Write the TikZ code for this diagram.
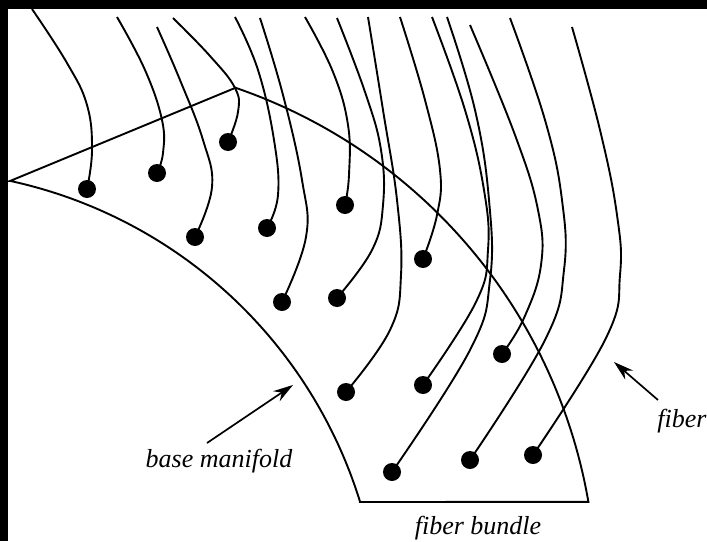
\documentclass[tikz,border=0pt]{standalone}
\usepackage{fontspec}
\setmainfont{Liberation Serif}
\usetikzlibrary{arrows.meta}
\begin{document}
\begin{tikzpicture}[x=1pt,y=-1pt,
  edge/.style={line width=1.9pt,line join=miter},
  fiber/.style={line width=1.9pt},
  dot/.style={circle,fill=black,inner sep=0pt,minimum size=18pt},
  lab/.style={font=\itshape\fontsize{26}{29}\selectfont,inner sep=0pt,anchor=base},
  arr/.style={line width=1.7pt,-{Stealth[length=20pt,width=12pt]}}]
\useasboundingbox (0,0) rectangle (707,541);
\fill[white] (0,0) rectangle (707,541);
\fill[black] (0,0) rectangle (707,9);
\fill[black] (0,0) rectangle (8,541);
% wedge (base manifold)
\draw[edge] (10,181) -- (235,88)
  -- plot[domain=71.1:9.8,samples=80] ({62.4+533.8*cos(\x)},{592.7-533.8*sin(\x)})
  -- (360,502)
  -- plot[domain=17.2:77.7,samples=80] ({-89.6+470.7*cos(\x)},{640.9-470.7*sin(\x)})
  -- cycle;
% dots
\node[dot] (d1) at (87,189) {};
\node[dot] (d2) at (157,173) {};
\node[dot] (d3) at (228,142) {};
\node[dot] (d4) at (195,237) {};
\node[dot] (d5) at (267,228) {};
\node[dot] (d6) at (345,205) {};
\node[dot] (d7) at (282,302) {};
\node[dot] (d8) at (337,298) {};
\node[dot] (d9) at (423,259) {};
\node[dot] (d10) at (502,354) {};
\node[dot] (d11) at (346,392) {};
\node[dot] (d12) at (423,385) {};
\node[dot] (d13) at (392,472) {};
\node[dot] (d14) at (470,460) {};
\node[dot] (d15) at (533,455) {};
% fibers
\draw[fiber] plot[smooth,tension=0.7] coordinates {(32,9) (67,63) (87,105) (92,150) (d1.center)};
\draw[fiber] plot[smooth,tension=0.7] coordinates {(117,17) (145,70) (162,120) (163,153) (d2.center)};
\draw[fiber] plot[smooth,tension=0.7] coordinates {(157,27) (180,80) (203,140) (212,187) (d4.center)};
\draw[fiber] plot[smooth,tension=0.7] coordinates {(173,18) (210,56) (235,88) (238,112) (d3.center)};
\draw[fiber] plot[smooth,tension=0.7] coordinates {(235,17) (258,70) (274,140) (278,195) (d5.center)};
\draw[fiber] plot[smooth,tension=0.7] coordinates {(260,18) (283,95) (302,180) (306,237) (d7.center)};
\draw[fiber] plot[smooth,tension=0.7] coordinates {(305,17) (333,72) (348,125) (349,175) (d6.center)};
\draw[fiber] plot[smooth,tension=0.7] coordinates {(337,18) (365,92) (381,150) (383,205) (372,250) (d8.center)};
\draw[fiber] plot[smooth,tension=0.7] coordinates {(368,17) (383,110) (397,200) (401,275) (390,330) (d11.center)};
\draw[fiber] plot[smooth,tension=0.7] coordinates {(400,17) (425,100) (440,170) (437,215) (d9.center)};
\draw[fiber] plot[smooth,tension=0.7] coordinates {(432,17) (465,110) (484,190) (488,250) (476,302) (d12.center)};
\draw[fiber] plot[smooth,tension=0.7] coordinates {(447,17) (475,110) (489,200) (490,280) (470,350) (d13.center)};
\draw[fiber] plot[smooth,tension=0.7] coordinates {(470,25) (515,135) (538,210) (541,265) (524,318) (d10.center)};
\draw[fiber] plot[smooth,tension=0.7] coordinates {(510,18) (545,120) (562,200) (564,270) (545,340) (d14.center)};
\draw[fiber] plot[smooth,tension=0.7] coordinates {(572,27) (600,130) (617,215) (620,275) (606,338) (d15.center)};
% labels
\node[lab] (bm) at (219,467) {base manifold};
\node[lab] (fb) at (478,534) {fiber bundle};
\node[lab] (fi) at (682,427) {fiber};
\coordinate (bmt) at (207,443);
\coordinate (bmh) at (293,385);
\coordinate (fit) at (658,400);
\coordinate (fih) at (614,362);
\draw[arr] (bmt) -- (bmh);
\draw[arr] (fit) -- (fih);
\end{tikzpicture}
\end{document}
